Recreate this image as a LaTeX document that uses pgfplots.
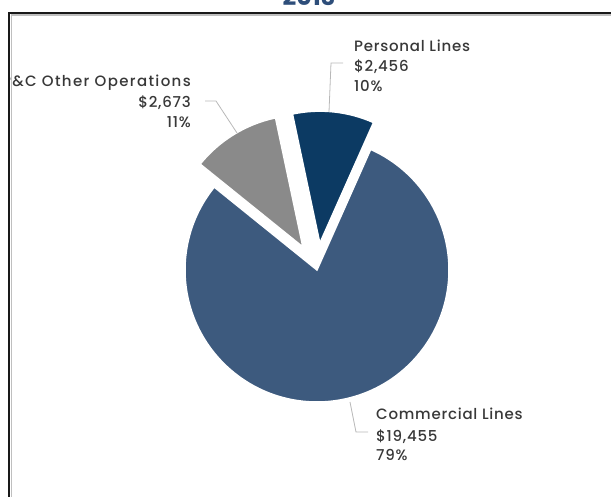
\documentclass[border=0pt]{standalone}
\usepackage{pgfplots}
\pgfplotsset{compat=1.18}
\usepackage{pgfplotstable}
\usepackage{fontspec}
\setmainfont{Poppins}
\newfontfamily\lblfont{Poppins}[UprightFont={* Medium}, LetterSpace=5]
\newfontfamily\lblwide{Poppins}[UprightFont={* Medium}, LetterSpace=9]

\definecolor{commercial}{HTML}{3D5A7E}
\definecolor{personal}{HTML}{0C3A63}
\definecolor{otherops}{HTML}{8A8A8A}
\definecolor{titleblue}{HTML}{2E4E7A}
\definecolor{labelgray}{HTML}{383838}
\definecolor{leader}{HTML}{B8B8B8}

% segment values (millions)
\pgfplotstableread{
segment value explode
Personal 2456 27
Other 2673 27
Commercial 19455 0
}\piedata

\pgfplotstablegetelem{0}{value}\of\piedata \let\vP\pgfplotsretval
\pgfplotstablegetelem{1}{value}\of\piedata \let\vO\pgfplotsretval
\pgfplotstablegetelem{2}{value}\of\piedata \let\vC\pgfplotsretval
\pgfplotstablegetelem{0}{explode}\of\piedata \let\eP\pgfplotsretval
\pgfplotstablegetelem{1}{explode}\of\piedata \let\eO\pgfplotsretval
\pgfplotstablegetelem{2}{explode}\of\piedata \let\eC\pgfplotsretval

\edef\total{\fpeval{\vP+\vO+\vC}}
\edef\aA{66}
\edef\aB{\fpeval{\aA+360*\vP/\total}}
\edef\aC{\fpeval{\aB+360*\vO/\total}}
\edef\aD{\fpeval{\aA+360}}
\edef\mP{\fpeval{(\aA+\aB)/2}}
\edef\mO{\fpeval{(\aB+\aC)/2}}
\edef\mC{\fpeval{(\aC+\aD)/2}}

\newcommand\lbl{\lblfont\fontsize{15}{20}\selectfont\color{labelgray}}
\newcommand\lblw{\lblwide\fontsize{15}{20}\selectfont\color{labelgray}}

\begin{document}
\begin{tikzpicture}
\begin{axis}[
    name=ax,
    hide axis,
    x=1pt, y=1pt,
    xmin=0, xmax=611,
    ymin=0, ymax=497,
    clip=false,
]
% wedges (centre of pie at 317,227; radius 132)
\fill[commercial, draw=white, line width=1.5pt] (axis cs:317,227) ++(\mC:\eC pt)
    -- ++(\aC:132pt) arc[start angle=\aC, end angle=\aD, radius=132pt] -- cycle;
\fill[personal, draw=white, line width=1.5pt] (axis cs:317,227) ++(\mP:\eP pt)
    -- ++(\aA:132pt) arc[start angle=\aA, end angle=\aB, radius=132pt] -- cycle;
\fill[otherops, draw=white, line width=1.5pt] (axis cs:317,227) ++(\mO:\eO pt)
    -- ++(\aB:132pt) arc[start angle=\aB, end angle=\aC, radius=132pt] -- cycle;

% leader lines
\draw[leader, line width=0.8pt] (axis cs:343,434) -- (axis cs:331,434) -- (axis cs:329,385);
\draw[leader, line width=0.8pt] (axis cs:205,396) -- (axis cs:216,396) -- (axis cs:237,364);
\draw[leader, line width=0.8pt] (axis cs:350,95) -- (axis cs:356,65) -- (axis cs:368,65);

% labels
\node[anchor=base west, inner sep=0pt, font=\lbl] at (axis cs:354,445) {Personal Lines};
\node[anchor=base west, inner sep=0pt, font=\lbl] at (axis cs:354,425) {\$2,456};
\node[anchor=base west, inner sep=0pt, font=\lbl] at (axis cs:354,405) {10\%};

\node[anchor=base east, inner sep=0pt, font=\lblw] at (axis cs:191,410) {P\&C Other Operations};
\node[anchor=base east, inner sep=0pt, font=\lbl] at (axis cs:191,389) {\$2,673};
\node[anchor=base east, inner sep=0pt, font=\lbl] at (axis cs:191,369) {11\%};

\node[anchor=base west, inner sep=0pt, font=\lbl] at (axis cs:376,77) {Commercial Lines};
\node[anchor=base west, inner sep=0pt, font=\lbl] at (axis cs:376,55) {\$19,455};
\node[anchor=base west, inner sep=0pt, font=\lbl] at (axis cs:376,36) {79\%};

% title, cut off by the top of the frame
\node[anchor=base, inner sep=0pt, text=titleblue, font=\fontsize{24}{28}\selectfont\bfseries] at (axis cs:309,491) {2013};

% frame
\fill[white] (axis cs:0,0) rectangle (axis cs:8,497);
\fill[white] (axis cs:0,484) rectangle (axis cs:611,485.5);
\draw[black!25, line width=1.5pt] (axis cs:11.5,0) -- (axis cs:11.5,482) -- (axis cs:611,482);
\draw[black!90, line width=2.2pt] (axis cs:9.2,0) -- (axis cs:9.2,484) -- (axis cs:611,484);
\end{axis}
\pgfresetboundingbox
\useasboundingbox (ax.south west) rectangle (ax.north east);
\end{tikzpicture}
\end{document}
